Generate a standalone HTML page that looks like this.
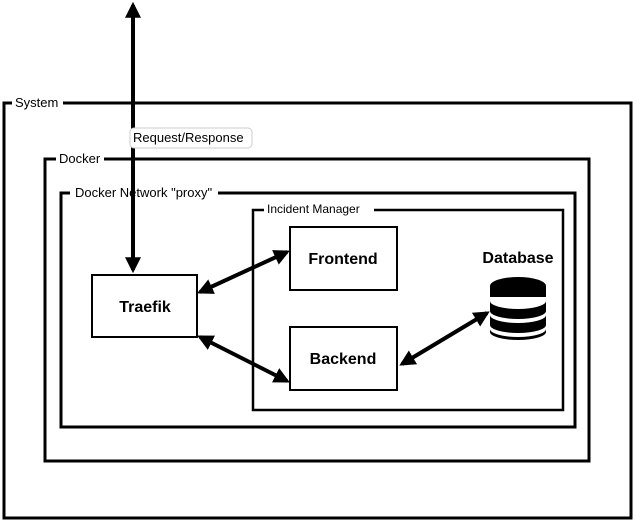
<!DOCTYPE html>
<html><head><style>body{margin:0;background:#fff}svg{display:block}</style></head><body>
<svg width="636" height="520" viewBox="0 0 636 520" xmlns="http://www.w3.org/2000/svg" font-family="Liberation Sans, DejaVu Sans, sans-serif">
<defs>
<marker id="a" viewBox="0 0 10 10" refX="8" refY="5" markerWidth="4" markerHeight="4" orient="auto-start-reverse"><path d="M0,0L10,5L0,10z" fill="#000"/></marker>
</defs>
<g fill="none" stroke="#000" stroke-width="3">
<rect x="4" y="103" width="627" height="415"/>
<rect x="45" y="159" width="544" height="302"/>
<rect x="61" y="193" width="514" height="234"/>
<rect x="253" y="210" width="310" height="200" stroke-width="2.5"/>
<rect x="290" y="227" width="107" height="63" stroke-width="2"/>
<rect x="290" y="327" width="107" height="63" stroke-width="2"/>
<rect x="92" y="275" width="105" height="62" stroke-width="2"/>
</g>
<g fill="#fff">
<rect x="12" y="95" width="51" height="14"/>
<rect x="56" y="151" width="48" height="14"/>
<rect x="70" y="185" width="148" height="14"/>
<rect x="264" y="202" width="110" height="14"/>
</g>
<g font-size="13" fill="#000">
<text x="15" y="107">System</text>
<text x="59" y="163">Docker</text>
<text x="75" y="197">Docker Network "proxy"</text>
<text x="267" y="213" font-size="12">Incident Manager</text>
</g>
<g stroke="#000" stroke-width="4" marker-start="url(#a)" marker-end="url(#a)">
<line x1="133" y1="5" x2="133" y2="270"/>
<line x1="200" y1="292" x2="287" y2="252"/>
<line x1="200" y1="337" x2="287" y2="381"/>
<line x1="402" y1="364" x2="487" y2="313"/>
</g>
<rect x="130" y="128" width="122" height="20" rx="4" fill="#fff" stroke="#ccc"/>
<text x="133" y="142" font-size="13">Request/Response</text>
<g font-weight="bold" font-size="16" fill="#000">
<text x="343" y="264" text-anchor="middle">Frontend</text>
<text x="343" y="364" text-anchor="middle">Backend</text>
<text x="145" y="312" text-anchor="middle">Traefik</text>
<text x="518" y="263" text-anchor="middle">Database</text>
</g>
<g fill="#000">
<ellipse cx="518" cy="286" rx="28" ry="9"/>
<rect x="490" y="286" width="56" height="11"/>
<path d="M490,301 a28,8 0 0 0 56,0 v10 a28,8 0 0 1 -56,0z"/>
<path d="M490,315 a28,8 0 0 0 56,0 v10 a28,8 0 0 1 -56,0z"/>
<path d="M490,329 a28,8 0 0 0 56,0 v3 a28,8 0 0 1 -56,0z"/>
</g>
</svg>
</body></html>
